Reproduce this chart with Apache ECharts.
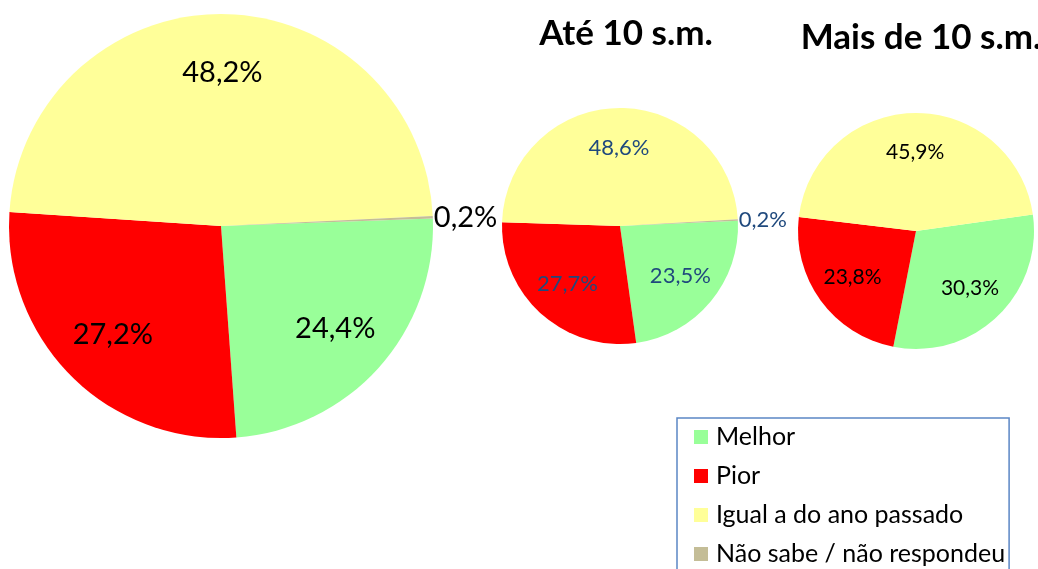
<!DOCTYPE html>
<html>
<head>
<meta charset="utf-8">
<script src="https://cdn.jsdelivr.net/npm/echarts@6/dist/echarts.min.js"></script>
<style>
  html, body { margin: 0; padding: 0; background: #ffffff; }
  #chart { width: 1038px; height: 569px; }
</style>
</head>
<body>
<div id="chart"></div>
<script>
const categories = ['Melhor', 'Pior', 'Igual a do ano passado', 'Não sabe / não respondeu'];
const totalValues = [24.4, 27.2, 48.2, 0.2];
const ate10Values = [23.5, 27.7, 48.6, 0.2];
const mais10Values = [30.3, 23.8, 45.9, 0];
const titleTexts = ['Até 10 s.m.', 'Mais de 10 s.m.'];

const colors = ['#99FF99', '#FF0000', '#FFFF99', '#C4BD97'];
const FONT = 'Lato';

function fmt(v) { return v.toFixed(1).replace('.', ',') + '%'; }

function buildData(vals) {
  return categories.map((n, i) => ({ name: n, value: vals[i], itemStyle: { color: colors[i] } }));
}

function pieSeries(vals, center, r, startAngle, innerFrac, fontSize, labelColor) {
  const base = {
    type: 'pie', center: center, startAngle: startAngle, clockwise: true,
    avoidLabelOverlap: false, animation: false, emphasis: { disabled: true },
    itemStyle: { borderWidth: 0 }
  };
  return [
    Object.assign({}, base, {
      radius: [0, r],
      data: buildData(vals),
      label: {
        show: true, position: 'outside', distanceToLabelLine: 1,
        fontFamily: FONT, fontSize: fontSize, color: labelColor,
        formatter: p => (p.value > 0 && p.value < 1) ? fmt(p.value) : ''
      },
      labelLine: { show: false, length: 0, length2: 0 }
    }),
    Object.assign({}, base, {
      radius: [r * innerFrac, r],
      silent: true,
      data: categories.map((n, i) => ({ name: n, value: vals[i], itemStyle: { color: 'rgba(0,0,0,0)' } })),
      label: {
        show: true, position: 'inside',
        fontFamily: FONT, fontSize: fontSize, color: labelColor,
        formatter: p => (p.value >= 1) ? fmt(p.value) : ''
      },
      labelLine: { show: false }
    })
  ];
}

const chart = echarts.init(document.getElementById('chart'), null, { renderer: 'canvas' });
chart.setOption({
  backgroundColor: '#ffffff',
  animation: false,
  title: [
    { text: titleTexts[0], left: 621, top: 11, textAlign: 'center',
      textStyle: { fontFamily: FONT, fontWeight: 'bold', fontSize: 35, color: '#000' } },
    { text: titleTexts[1], left: 916, top: 15, textAlign: 'center',
      textStyle: { fontFamily: FONT, fontWeight: 'bold', fontSize: 35, color: '#000' } }
  ],
  legend: {
    orient: 'vertical', left: 677, top: 418, height: 180,
    padding: [6, 4, 24, 17], itemGap: 13, itemWidth: 14, itemHeight: 14,
    icon: 'rect', borderColor: '#5B86C5', borderWidth: 1.5, backgroundColor: '#fff',
    selectedMode: false,
    textStyle: { fontFamily: FONT, fontSize: 25, color: '#000', lineHeight: 26, padding: [0, 0, 0, 3] },
    data: categories.map((n, i) => ({ name: n, itemStyle: { color: colors[i] } }))
  },
  series: [].concat(
    pieSeries(totalValues, [221, 226], 212, 2, 0.42, 29, '#000'),
    pieSeries(ate10Values, [620, 226], 118, 2.5, 0.28, 22, '#1F497D'),
    pieSeries(mais10Values, [916, 231], 118, 8, 0.28, 21, '#000')
  )
});
</script>
</body>
</html>
